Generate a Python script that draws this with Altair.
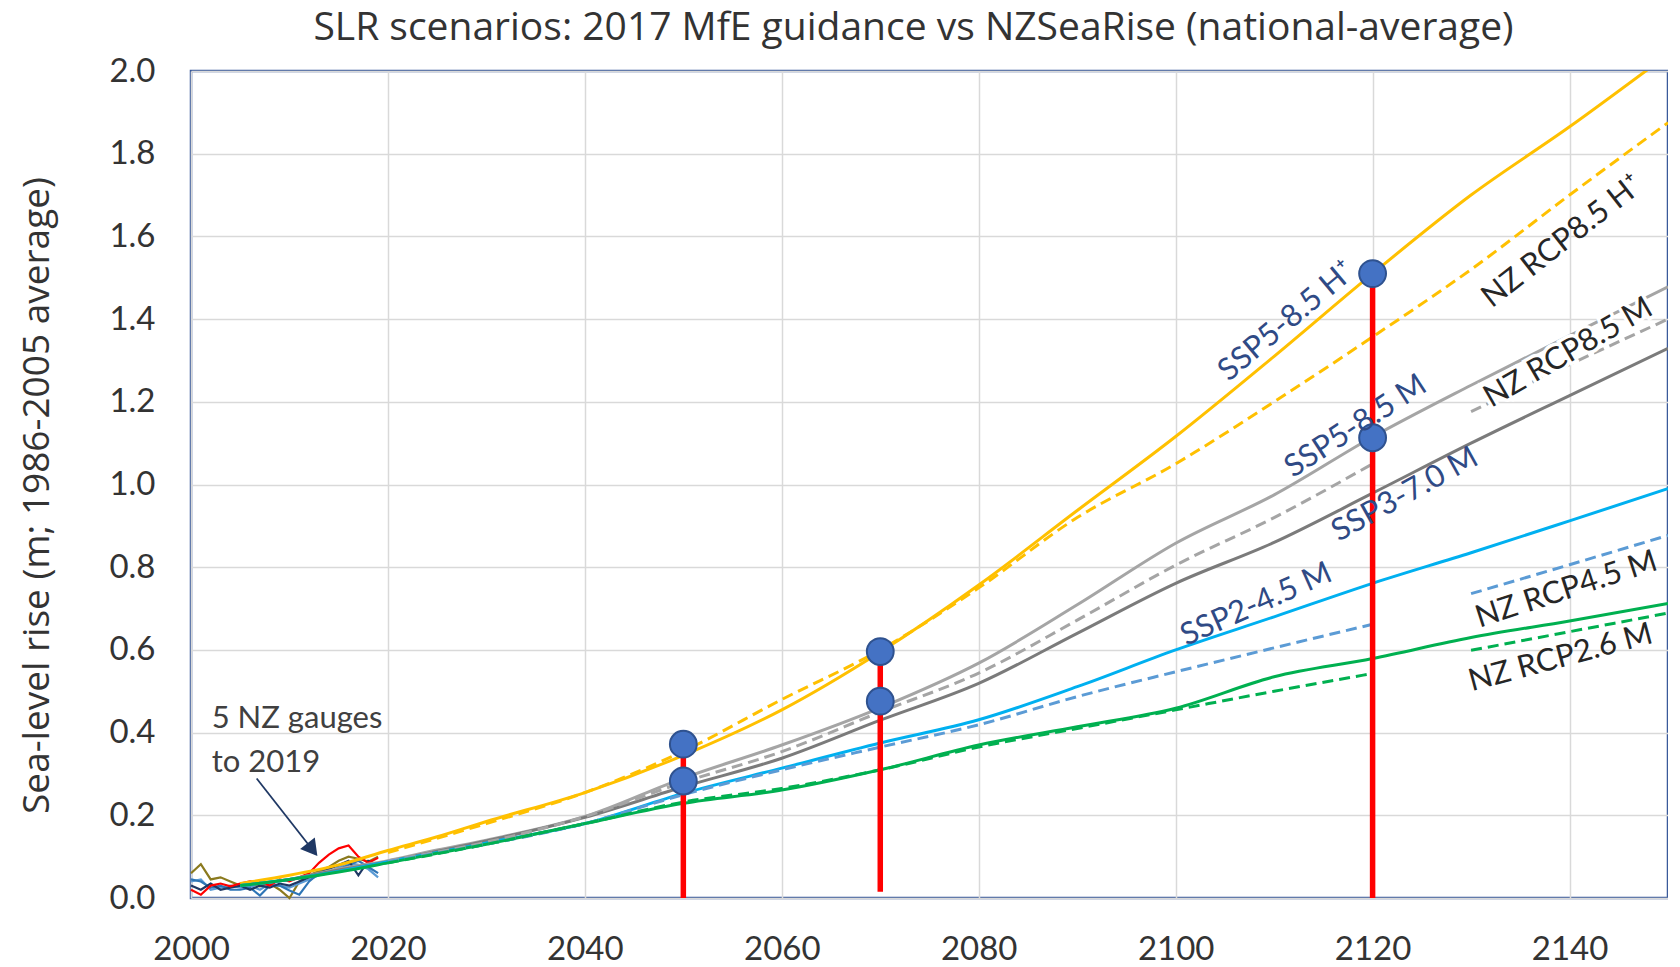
import altair as alt
import pandas as pd

# ---------------- data ----------------
title_text = "SLR scenarios: 2017 MfE guidance vs NZSeaRise (national-average)"

proj_years = [2005, 2010, 2015, 2020, 2025, 2030, 2040, 2050, 2060, 2070,
              2080, 2090, 2100, 2110, 2120, 2130, 2140, 2150]
ssp585_h = [0.035, 0.055, 0.08, 0.115, 0.148, 0.185, 0.255, 0.345, 0.455, 0.595,
            0.757, 0.937, 1.116, 1.31, 1.51, 1.70, 1.865, 2.04]
ssp585_m = [0.03, 0.045, 0.07, 0.09, 0.116, 0.14, 0.197, 0.29, 0.37, 0.46,
            0.568, 0.709, 0.858, 0.975, 1.115, 1.24, 1.36, 1.478]
ssp370_m = [0.03, 0.045, 0.068, 0.088, 0.113, 0.138, 0.195, 0.269, 0.338, 0.43,
            0.519, 0.64, 0.761, 0.86, 0.979, 1.10, 1.215, 1.329]
ssp245_m = [0.03, 0.045, 0.065, 0.088, 0.11, 0.133, 0.18, 0.253, 0.314, 0.375,
            0.431, 0.511, 0.60, 0.68, 0.761, 0.835, 0.912, 0.99]
ssp126_m = [0.03, 0.045, 0.063, 0.085, 0.108, 0.13, 0.18, 0.229, 0.261, 0.31,
            0.37, 0.414, 0.459, 0.535, 0.579, 0.63, 0.67, 0.712]

nz_years = [2020, 2030, 2040, 2050, 2060, 2070, 2080, 2090, 2100, 2110, 2120,
            2130, 2140, 2150]
nz85_h = [0.11, 0.18, 0.255, 0.355, 0.48, 0.60, 0.75, 0.92, 1.05, 1.20, 1.357,
          1.52, 1.70, 1.875]
nz85_m = [0.09, 0.135, 0.197, 0.28, 0.354, 0.45, 0.544, 0.672, 0.805, 0.92, 1.05,
          1.176, 1.29, 1.40]
nz45_m = [0.088, 0.13, 0.18, 0.25, 0.31, 0.365, 0.419, 0.487, 0.547, 0.605, 0.662,
          0.736, 0.806, 0.877]
nz26_m = [0.085, 0.13, 0.18, 0.232, 0.265, 0.31, 0.365, 0.41, 0.455, 0.50, 0.543,
          0.599, 0.644, 0.689]
nz_broken = ["NZ RCP8.5 M", "NZ RCP4.5 M", "NZ RCP2.6 M"]  # gap 2120-2130

gauge_years = list(range(2000, 2020))
gauge_red = [0.02, 0.008, 0.03, 0.035, 0.028, 0.035, 0.04, 0.038, 0.03, 0.045,
             0.04, 0.05, 0.06, 0.085, 0.105, 0.12, 0.127, 0.10, 0.085, 0.097]
gauge_olive = [0.06, 0.082, 0.045, 0.05, 0.04, 0.03, 0.035, 0.028, 0.035, 0.02,
               0.0, 0.04, 0.055, 0.065, 0.075, 0.09, 0.10, 0.095, 0.088, 0.10]
gauge_blue = [0.045, 0.04, 0.025, 0.03, 0.02, 0.02, 0.025, 0.006, 0.03, 0.03,
              0.018, 0.008, 0.04, 0.06, 0.065, 0.07, 0.08, 0.09, 0.075, 0.06]
gauge_navy = [0.03, 0.02, 0.035, 0.02, 0.025, 0.03, 0.02, 0.03, 0.025, 0.035,
              0.03, 0.04, 0.05, 0.06, 0.07, 0.08, 0.09, 0.055, 0.09, 0.08]
gauge_light = [0.04, 0.045, 0.02, 0.025, 0.03, 0.025, 0.03, 0.02, 0.035, 0.03,
               0.025, 0.035, 0.045, 0.055, 0.06, 0.075, 0.085, 0.08, 0.07, 0.05]

# markers (year, value) and red vertical lines
dot_years = [2050, 2050, 2070, 2070, 2120, 2120]
dot_values = [0.372, 0.283, 0.596, 0.476, 1.51, 1.113]
rule_years = [2050, 2070, 2120]
rule_bottom = [0.0, 0.015, 0.0]
rule_top = [0.372, 0.596, 1.51]

# in-plot labels
label_text = ["SSP5-8.5 H⁺", "NZ RCP8.5 H⁺", "SSP5-8.5 M", "NZ RCP8.5 M",
              "SSP3-7.0 M", "SSP2-4.5 M", "NZ RCP4.5 M", "NZ RCP2.6 M"]
label_year = [2111.3, 2139.3, 2118.3, 2139.9, 2123.3, 2108.2, 2139.7, 2139.1]
label_value = [1.394, 1.587, 1.14, 1.318, 0.975, 0.709, 0.745, 0.58]
label_angle = [320, 322, 327, 330, 331, 336, 342, 345]
label_color = ["#2F4A85", "#262626", "#2F4A85", "#262626",
               "#2F4A85", "#2F4A85", "#262626", "#262626"]

note_lines = ["5 NZ gauges", "to 2019"]
note_year = [2002.1, 2002.1]
note_value = [0.410, 0.305]
arrow_from = (2006.67, 0.289)
arrow_to = (2012.3, 0.118)

# ---------------- tables ----------------
solid_series = {"SSP5-8.5 H+": ssp585_h, "SSP5-8.5 M": ssp585_m,
                "SSP3-7.0 M": ssp370_m, "SSP2-4.5 M": ssp245_m,
                "SSP1-2.6 M": ssp126_m}
dashed_series = {"NZ RCP8.5 H+": nz85_h, "NZ RCP8.5 M": nz85_m,
                 "NZ RCP4.5 M": nz45_m, "NZ RCP2.6 M": nz26_m}
gauge_series = {"Gauge A": gauge_olive, "Gauge B": gauge_light,
                "Gauge C": gauge_blue, "Gauge D": gauge_navy, "Gauge E": gauge_red}

solid_rows = [dict(series=s, year=y, value=v)
              for s, vals in solid_series.items() for y, v in zip(proj_years, vals)]
dashed_rows = [dict(series=s, year=y, value=v,
                    seg=s + ("b" if (s in nz_broken and y > 2120) else "a"))
               for s, vals in dashed_series.items() for y, v in zip(nz_years, vals)]
gauge_rows = [dict(series=s, year=y, value=v)
              for s, vals in gauge_series.items() for y, v in zip(gauge_years, vals)]

solid_df = pd.DataFrame(solid_rows)
dashed_df = pd.DataFrame(dashed_rows)
gauge_df = pd.DataFrame(gauge_rows)
dots_df = pd.DataFrame({"year": dot_years, "value": dot_values})
rules_df = pd.DataFrame({"year": rule_years, "y0": rule_bottom, "y1": rule_top})
labels_df = pd.DataFrame({"text": label_text, "year": label_year, "value": label_value,
                          "angle": label_angle, "color": label_color})
note_df = pd.DataFrame({"text": note_lines, "year": note_year, "value": note_value})
arrow_df = pd.DataFrame({"year": [arrow_from[0]], "value": [arrow_from[1]],
                         "year2": [arrow_to[0]], "value2": [arrow_to[1]]})
title_df = pd.DataFrame({"text": [title_text]})

color_domain = ["SSP5-8.5 H+", "NZ RCP8.5 H+", "SSP5-8.5 M", "NZ RCP8.5 M",
                "SSP3-7.0 M", "SSP2-4.5 M", "NZ RCP4.5 M", "SSP1-2.6 M",
                "NZ RCP2.6 M", "Gauge A", "Gauge B", "Gauge C", "Gauge D", "Gauge E"]
color_range = ["#FFC000", "#FFC000", "#A5A5A5", "#A5A5A5",
               "#7B7B7B", "#00B0F0", "#5B9BD5", "#00B050",
               "#00B050", "#8B7A1E", "#5B9BD5", "#2E75B6", "#1F3864", "#FF0000"]
cscale = alt.Scale(domain=color_domain, range=color_range)

# ---------------- scales / axes ----------------
xscale = alt.Scale(domain=[2000, 2150], nice=False, zero=False)
yscale = alt.Scale(domain=[0, 2.0], nice=False)
xaxis = alt.Axis(values=list(range(2000, 2141, 20)), format="d", title=None,
                 labelFont="Lato", labelFontSize=33, labelColor="#333333",
                 labelPadding=35, labelFlush=False, labelOverlap=False,
                 tickSize=0, ticks=False, domain=False, grid=True,
                 gridColor="#D9D9D9", gridWidth=1.5)
yaxis = alt.Axis(values=[round(0.2 * i, 1) for i in range(11)], format=".1f",
                 title="Sea-level rise (m; 1986-2005 average)",
                 titleFont="Open Sans", titleFontSize=37, titleFontWeight="normal",
                 titleColor="#333333", titleX=-154, titleY=424, titleAngle=270,
                 titleAlign="center", titleBaseline="middle",
                 labelFont="Lato", labelFontSize=33, labelColor="#333333",
                 labelPadding=36, labelFlush=False, labelOverlap=False,
                 tickSize=0, ticks=False, domain=False, grid=True,
                 gridColor="#D9D9D9", gridWidth=1.5)


def X(f="year"):
    return alt.X(f"{f}:Q", scale=xscale, axis=xaxis)


def Y(f="value"):
    return alt.Y(f"{f}:Q", scale=yscale, axis=yaxis)


gauges = alt.Chart(gauge_df).mark_line(strokeWidth=2.2).encode(
    x=X(), y=Y(), color=alt.Color("series:N", scale=cscale, legend=None),
    detail="series:N")

solid = alt.Chart(solid_df).mark_line(strokeWidth=3, clip=True,
                                      interpolate="monotone").encode(
    x=X(), y=Y(), color=alt.Color("series:N", scale=cscale, legend=None),
    detail="series:N")

dashed = alt.Chart(dashed_df).mark_line(strokeWidth=3, strokeDash=[11, 6], clip=True,
                                        interpolate="monotone").encode(
    x=X(), y=Y(), color=alt.Color("series:N", scale=cscale, legend=None),
    detail="seg:N")

arrow_line = alt.Chart(arrow_df).mark_rule(color="#1F3864", strokeWidth=1.8).encode(
    x=X(), y=Y(), x2="year2:Q", y2="value2:Q")
arrow_head = alt.Chart(arrow_df).mark_point(
    shape="triangle-up", angle=142, size=230, filled=True, fill="#1F3864",
    stroke="#1F3864", opacity=1).encode(x=X("year2"), y=Y("value2"))

rules = alt.Chart(rules_df).mark_rule(color="#FF0000", strokeWidth=5.5).encode(
    x=X(), y=Y("y0"), y2="y1:Q")

dots = alt.Chart(dots_df).mark_point(
    shape="circle", size=720, filled=True, fill="#4472C4", stroke="#2F528F",
    strokeWidth=2, opacity=1).encode(x=X(), y=Y())

note = alt.Chart(note_df).mark_text(
    font="Lato", fontSize=31, color="#404040", align="left",
    baseline="alphabetic").encode(x=X(), y=Y(), text="text:N")

halo = alt.Chart(labels_df[labels_df["text"] == "NZ RCP8.5 M"]).mark_text(
    font="Lato", fontSize=31, align="center", baseline="middle",
    stroke="white", strokeWidth=7, fill="white").encode(
    x=X(), y=Y(), text="text:N", angle=alt.Angle("angle:Q", scale=None))

labels = alt.Chart(labels_df).mark_text(
    font="Lato", fontSize=31, align="center", baseline="middle").encode(
    x=X(), y=Y(), text="text:N", angle=alt.Angle("angle:Q", scale=None),
    color=alt.Color("color:N", scale=None))

title = alt.Chart(title_df).mark_text(
    font="Open Sans", fontSize=39, color="#333333", align="center",
    baseline="alphabetic").encode(
    text="text:N", x=alt.value(722.5), y=alt.value(-31))

chart = alt.layer(
    gauges, solid, dashed, arrow_line, arrow_head, rules, dots, note, halo, labels,
    title
).properties(
    width=1477, height=827,
    autosize=alt.AutoSizeParams(type="none"),
    padding={"left": 183, "top": 63, "right": 0, "bottom": 72},
    background="white",
).configure_view(
    stroke="#3A5A9A", strokeWidth=2.5
)

chart.save("out.html", embed_options={"renderer": "svg", "actions": False})
